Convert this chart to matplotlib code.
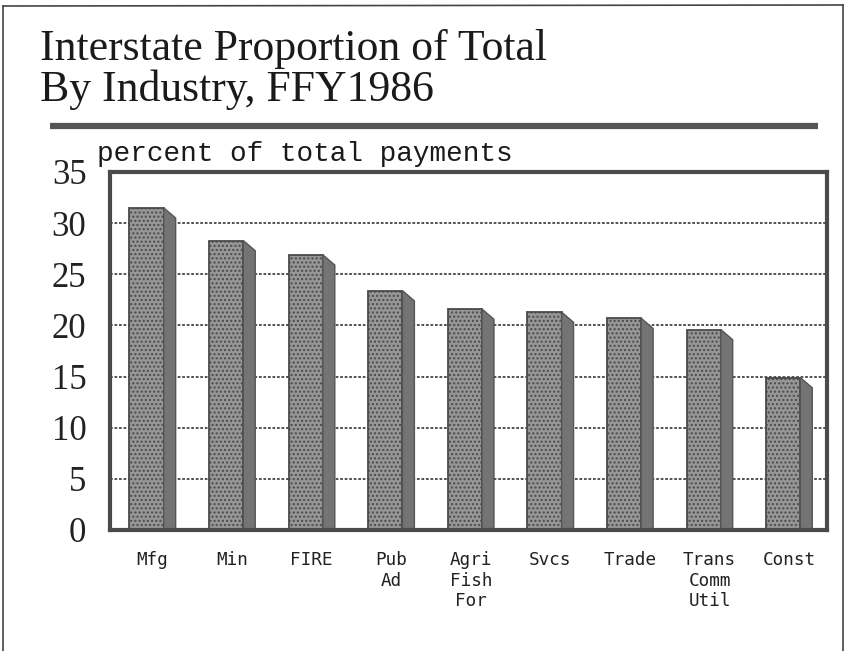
import matplotlib
matplotlib.use("Agg")
import matplotlib.pyplot as plt
from matplotlib.patches import Polygon
from matplotlib.lines import Line2D

categories = ["Mfg", "Min", "FIRE", "Pub\nAd", "Agri\nFish\nFor", "Svcs", "Trade", "Trans\nComm\nUtil", "Const"]
values = [31.5, 28.3, 26.9, 23.4, 21.6, 21.3, 20.7, 19.6, 14.9]
yticks = [0, 5, 10, 15, 20, 25, 30, 35]
title_lines = ["Interstate Proportion of Total", "By Industry, FFY1986"]
ylabel = "percent of total payments"

W, H = 846, 651
fig = plt.figure(figsize=(W / 100, H / 100), dpi=100)
fig.patch.set_facecolor("white")

def fx(px):
    return px / W

def fy(py):
    return 1 - py / H

# page border
fig.add_artist(Line2D([fx(3), fx(3)], [fy(651), fy(6)], color="#444444", lw=1.2))
fig.add_artist(Line2D([fx(3), fx(843)], [fy(6), fy(5)], color="#444444", lw=1.2))
fig.add_artist(Line2D([fx(843), fx(843)], [fy(5), fy(651)], color="#444444", lw=1.2))

# title
fig.text(fx(40), fy(60), title_lines[0], family="Liberation Serif", fontsize=31.5,
         color="#1a1a1a", ha="left", va="baseline")
fig.text(fx(40), fy(101), title_lines[1], family="Liberation Serif", fontsize=31.5,
         color="#1a1a1a", ha="left", va="baseline")

# thick rule
fig.add_artist(Line2D([fx(50), fx(818)], [fy(126), fy(126)], color="#555555", lw=4.5,
                      solid_capstyle="butt"))

# axis label
fig.text(fx(97), fy(161), ylabel, family="Liberation Mono",
         fontsize=20, color="#1a1a1a", ha="left", va="baseline")

ax = fig.add_axes([fx(110), fy(530), fx(827) - fx(110), fy(172) - fy(530)])
ax.set_facecolor("white")
n = len(values)
xs = list(range(n))
ax.set_xlim(-0.46, n - 1 + 0.55)
ax.set_ylim(0, 35)

bw = 0.43
depth_x = 0.15
depth_y = 1.0
ax.set_yticks(yticks)
ax.set_yticklabels([str(t) for t in yticks], family="Liberation Serif", fontsize=25, color="#222222")
ax.tick_params(axis="y", length=0, pad=17)

for y in yticks[1:-1]:
    ax.axhline(y, color="#444444", lw=1.3, ls=(0, (1.5, 1.0)), zorder=1)

ax.bar(xs, values, width=bw, color="#969696", edgecolor="#4a4a4a",
       hatch="....", lw=1.3, zorder=3)
for x, v in zip(xs, values):
    xr = x + bw / 2
    side = Polygon([(xr, v), (xr + depth_x, v - depth_y), (xr + depth_x, 0), (xr, 0)],
                   closed=True, facecolor="#747474", edgecolor="#555555", lw=1.0, zorder=3)
    ax.add_patch(side)

ax.set_xticks([x + depth_x / 2 for x in xs])
ax.set_xticklabels(categories, family="DejaVu Sans Mono", fontsize=12.7, color="#222222",
                   linespacing=1.2, multialignment="center")
ax.tick_params(axis="x", length=0, pad=15)

for s in ax.spines.values():
    s.set_color("#4a4a4a")
    s.set_linewidth(3)
    s.set_zorder(5)

fig.savefig("out.png", dpi=100, facecolor="white")
